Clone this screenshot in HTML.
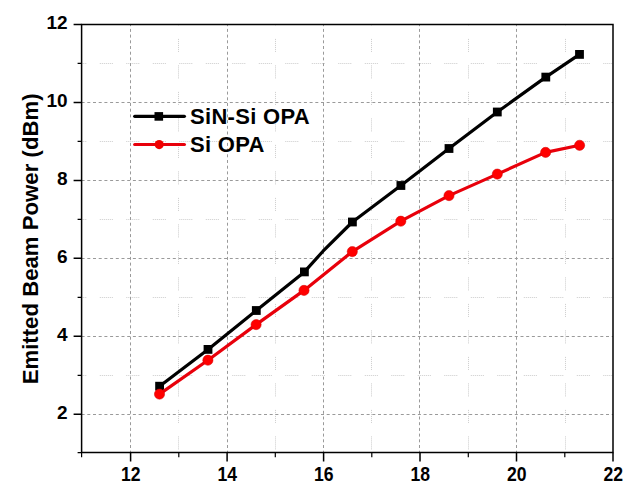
<!DOCTYPE html><html><head><meta charset="utf-8"><style>html,body{margin:0;padding:0;background:#fff;}svg{display:block;}text{font-family:"Liberation Sans",sans-serif;font-weight:bold;fill:#000;}</style></head><body>
<svg width="644" height="492" viewBox="0 0 644 492">
<rect width="644" height="492" fill="#fff"/>
<path d="M178.5 24.4V452.6M275.5 24.4V452.6M371.5 24.4V452.6M468.5 24.4V452.6M565.5 24.4V452.6" stroke="#cccccc" stroke-width="1" stroke-dasharray="1 1 1 1 1 1 1 1 1 1 1 1 1 13.5" stroke-dashoffset="12" fill="none"/>
<path d="M81.6 63.5H613.0M81.6 141.5H613.0M81.6 219.5H613.0M81.6 297.5H613.0M81.6 375.5H613.0" stroke="#cccccc" stroke-width="1" stroke-dasharray="1 1 1 1 1 1 1 1 1 1 1 1 1 13.5" stroke-dashoffset="8.3" fill="none"/>
<path d="M130.5 24.4V452.6M227.5 24.4V452.6M323.5 24.4V452.6M419.5 24.4V452.6M516.5 24.4V452.6" stroke="#9a9a9a" stroke-width="1" stroke-dasharray="3 2.7" stroke-dashoffset="1.2" fill="none"/>
<path d="M81.6 102.5H613.0M81.6 180.5H613.0M81.6 258.5H613.0M81.6 336.5H613.0M81.6 414.5H613.0" stroke="#9a9a9a" stroke-width="1" stroke-dasharray="3 2.7" fill="none"/>
<path d="M81.6 24.4H613.0V452.6H81.6Z" stroke="#000" stroke-width="1.5" fill="none"/>
<path d="M73.6 24.4H81.6M73.6 102.4H81.6M73.6 180.4H81.6M73.6 258.3H81.6M73.6 336.3H81.6M73.6 414.3H81.6M130.6 452.6V461.4M227.1 452.6V461.4M323.6 452.6V461.4M420.0 452.6V461.4M516.5 452.6V461.4M613.0 452.6V461.4" stroke="#000" stroke-width="1.5" fill="none"/>
<path d="M77.6 63.4H81.6M77.6 141.4H81.6M77.6 219.4H81.6M77.6 297.3H81.6M77.6 375.3H81.6M77.6 452.6H81.6M81.6 452.6V457.2M178.8 452.6V457.2M275.3 452.6V457.2M371.8 452.6V457.2M468.3 452.6V457.2M564.8 452.6V457.2" stroke="#000" stroke-width="1.2" fill="none"/>
<text x="67.6" y="28.8" font-size="19" text-anchor="end">12</text>
<text x="67.6" y="106.8" font-size="19" text-anchor="end">10</text>
<text x="67.6" y="184.8" font-size="19" text-anchor="end">8</text>
<text x="67.6" y="262.7" font-size="19" text-anchor="end">6</text>
<text x="67.6" y="340.7" font-size="19" text-anchor="end">4</text>
<text x="67.6" y="418.7" font-size="19" text-anchor="end">2</text>
<text transform="translate(130.8,481) scale(0.88,1)" font-size="20" text-anchor="middle">12</text>
<text transform="translate(227.3,481) scale(0.88,1)" font-size="20" text-anchor="middle">14</text>
<text transform="translate(323.8,481) scale(0.88,1)" font-size="20" text-anchor="middle">16</text>
<text transform="translate(420.2,481) scale(0.88,1)" font-size="20" text-anchor="middle">18</text>
<text transform="translate(516.7,481) scale(0.88,1)" font-size="20" text-anchor="middle">20</text>
<text transform="translate(613.2,481) scale(0.88,1)" font-size="20" text-anchor="middle">22</text>
<text transform="translate(37.7,238.9) rotate(-90)" font-size="22.2" text-anchor="middle">Emitted Beam Power (dBm)</text>
<polyline points="159.6,386.2 208,349.4 256.3,310.5 304.4,271.9 323,251.2 352.4,222.0 400.9,185.5 449,148.5 497.3,112 545.8,77.1 579.5,54.4" stroke="#000" stroke-width="3.2" fill="none" stroke-linejoin="round"/>
<rect x="155.2" y="381.8" width="8.8" height="8.8" fill="#000"/>
<rect x="203.6" y="345.0" width="8.8" height="8.8" fill="#000"/>
<rect x="251.9" y="306.1" width="8.8" height="8.8" fill="#000"/>
<rect x="300.0" y="267.5" width="8.8" height="8.8" fill="#000"/>
<rect x="348.0" y="217.6" width="8.8" height="8.8" fill="#000"/>
<rect x="396.5" y="181.1" width="8.8" height="8.8" fill="#000"/>
<rect x="444.6" y="144.1" width="8.8" height="8.8" fill="#000"/>
<rect x="492.9" y="107.6" width="8.8" height="8.8" fill="#000"/>
<rect x="541.4" y="72.7" width="8.8" height="8.8" fill="#000"/>
<rect x="575.1" y="50.0" width="8.8" height="8.8" fill="#000"/>
<polyline points="159.5,394.1 207.9,360.2 256.1,324.6 304,290.4 352.3,251.6 400.8,221.2 449,195.6 497.3,174.1 545.6,152.4 579.6,145.3" stroke="#e8000b" stroke-width="3.2" fill="none" stroke-linejoin="round"/>
<circle cx="159.5" cy="394.1" r="5.1" fill="#ff0000" stroke="#d00000" stroke-width="0.5"/>
<circle cx="207.9" cy="360.2" r="5.1" fill="#ff0000" stroke="#d00000" stroke-width="0.5"/>
<circle cx="256.1" cy="324.6" r="5.1" fill="#ff0000" stroke="#d00000" stroke-width="0.5"/>
<circle cx="304" cy="290.4" r="5.1" fill="#ff0000" stroke="#d00000" stroke-width="0.5"/>
<circle cx="352.3" cy="251.6" r="5.1" fill="#ff0000" stroke="#d00000" stroke-width="0.5"/>
<circle cx="400.8" cy="221.2" r="5.1" fill="#ff0000" stroke="#d00000" stroke-width="0.5"/>
<circle cx="449" cy="195.6" r="5.1" fill="#ff0000" stroke="#d00000" stroke-width="0.5"/>
<circle cx="497.3" cy="174.1" r="5.1" fill="#ff0000" stroke="#d00000" stroke-width="0.5"/>
<circle cx="545.6" cy="152.4" r="5.1" fill="#ff0000" stroke="#d00000" stroke-width="0.5"/>
<circle cx="579.6" cy="145.3" r="5.1" fill="#ff0000" stroke="#d00000" stroke-width="0.5"/>
<path d="M134.7 116.3H184.4" stroke="#000" stroke-width="3.2" stroke-linecap="round"/>
<rect x="154.5" y="112.1" width="8.6" height="8.6" fill="#000"/>
<path d="M134.7 144.5H184.4" stroke="#e8000b" stroke-width="3.2" stroke-linecap="round"/>
<circle cx="159.2" cy="144.6" r="4.6" fill="#f00000"/>
<text x="190" y="123.8" font-size="22" letter-spacing="0.3">SiN-Si OPA</text>
<text x="190" y="151.7" font-size="22" letter-spacing="0.3">Si OPA</text>
</svg></body></html>
